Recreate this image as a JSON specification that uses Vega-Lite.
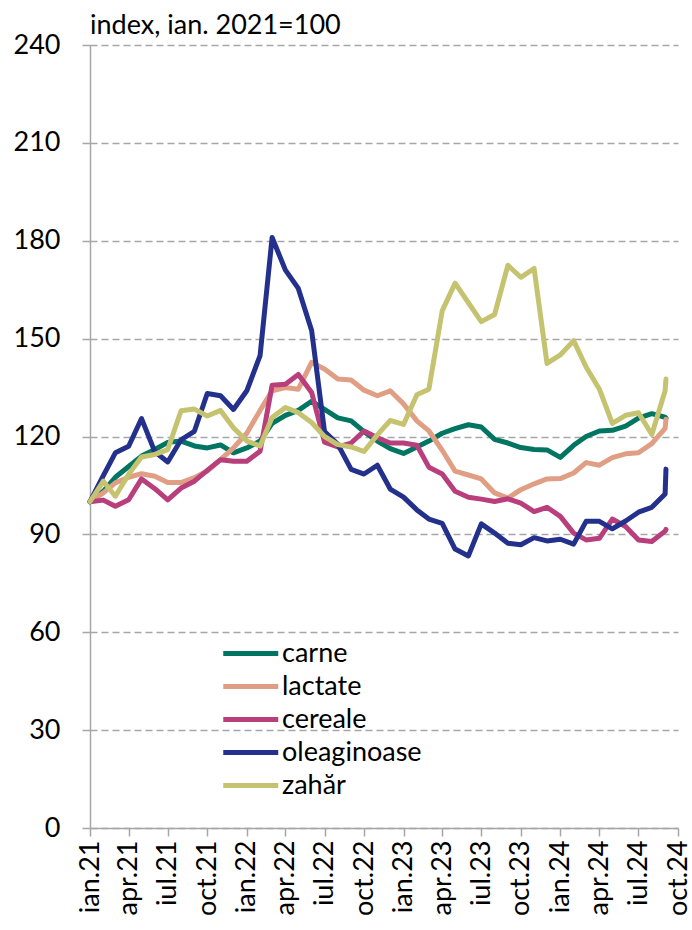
{
  "$schema": "https://vega.github.io/schema/vega-lite/v6.json",
  "width": 588,
  "height": 783,
  "autosize": {"type": "none"},
  "padding": {"left": 90, "top": 45, "right": 14, "bottom": 102},
  "background": "white",
  "title": {"text": "index, ian. 2021=100", "anchor": "start", "frame": "group", "font": "Lato", "fontSize": 27, "fontWeight": "normal", "color": "#000000", "offset": -9},
  "config": {"view": {"stroke": null}, "font": "Lato"},
  "datasets": {
    "raw": [
      {"date": "2021-01-01", "carne": 100, "lactate": 100, "cereale": 100, "oleaginoase": 100, "zahar": 100},
      {"date": "2021-02-01", "carne": 103.2, "lactate": 102.7, "cereale": 100.5, "oleaginoase": 108, "zahar": 106.3},
      {"date": "2021-03-01", "carne": 107.5, "lactate": 105.8, "cereale": 98.6, "oleaginoase": 115, "zahar": 101.7},
      {"date": "2021-04-01", "carne": 110.8, "lactate": 107.5, "cereale": 100.6, "oleaginoase": 117, "zahar": 108.4},
      {"date": "2021-05-01", "carne": 114, "lactate": 108.6, "cereale": 107, "oleaginoase": 125.5, "zahar": 113.7},
      {"date": "2021-06-01", "carne": 116, "lactate": 107.8, "cereale": 104, "oleaginoase": 115.3, "zahar": 114.5},
      {"date": "2021-07-01", "carne": 118.2, "lactate": 105.9, "cereale": 100.6, "oleaginoase": 112.2, "zahar": 116},
      {"date": "2021-08-01", "carne": 118.6, "lactate": 105.9, "cereale": 104.2, "oleaginoase": 119, "zahar": 127.9},
      {"date": "2021-09-01", "carne": 117.1, "lactate": 107.4, "cereale": 106.3, "oleaginoase": 121.6, "zahar": 128.4},
      {"date": "2021-10-01", "carne": 116.5, "lactate": 109.4, "cereale": 109.6, "oleaginoase": 133.2, "zahar": 126.3},
      {"date": "2021-11-01", "carne": 117.4, "lactate": 112.9, "cereale": 112.9, "oleaginoase": 132.5, "zahar": 128},
      {"date": "2021-12-01", "carne": 115, "lactate": 116.5, "cereale": 112.4, "oleaginoase": 128.3, "zahar": 122.7},
      {"date": "2022-01-01", "carne": 116.5, "lactate": 121, "cereale": 112.4, "oleaginoase": 134, "zahar": 118.6},
      {"date": "2022-02-01", "carne": 118.6, "lactate": 128, "cereale": 115.5, "oleaginoase": 144.8, "zahar": 117.1},
      {"date": "2022-03-01", "carne": 124, "lactate": 134, "cereale": 135.7, "oleaginoase": 181, "zahar": 125.8},
      {"date": "2022-04-01", "carne": 126.5, "lactate": 135, "cereale": 136, "oleaginoase": 171, "zahar": 128.9},
      {"date": "2022-05-01", "carne": 128, "lactate": 134.5, "cereale": 139, "oleaginoase": 165.4, "zahar": 127.3},
      {"date": "2022-06-01", "carne": 130.8, "lactate": 142.7, "cereale": 133.5, "oleaginoase": 152.5, "zahar": 124.3},
      {"date": "2022-07-01", "carne": 128.3, "lactate": 140.7, "cereale": 118.3, "oleaginoase": 121.5, "zahar": 120},
      {"date": "2022-08-01", "carne": 125.7, "lactate": 137.6, "cereale": 116.8, "oleaginoase": 117.6, "zahar": 117.5},
      {"date": "2022-09-01", "carne": 124.8, "lactate": 137.3, "cereale": 118, "oleaginoase": 109.9, "zahar": 116.8},
      {"date": "2022-10-01", "carne": 121.5, "lactate": 134.2, "cereale": 121.7, "oleaginoase": 108.5, "zahar": 115.4},
      {"date": "2022-11-01", "carne": 118.6, "lactate": 132.5, "cereale": 119.6, "oleaginoase": 111.2, "zahar": 120.5},
      {"date": "2022-12-01", "carne": 116.3, "lactate": 134, "cereale": 118, "oleaginoase": 103.9, "zahar": 124.9},
      {"date": "2023-01-01", "carne": 114.8, "lactate": 130, "cereale": 118, "oleaginoase": 101.4, "zahar": 123.7},
      {"date": "2023-02-01", "carne": 116.8, "lactate": 124.8, "cereale": 117.3, "oleaginoase": 97.5, "zahar": 132.8},
      {"date": "2023-03-01", "carne": 118.6, "lactate": 121.7, "cereale": 110.6, "oleaginoase": 94.7, "zahar": 134.5},
      {"date": "2023-04-01", "carne": 121, "lactate": 115.8, "cereale": 108.5, "oleaginoase": 93.4, "zahar": 158.5},
      {"date": "2023-05-01", "carne": 122.4, "lactate": 109.4, "cereale": 103.2, "oleaginoase": 85.5, "zahar": 167},
      {"date": "2023-06-01", "carne": 123.6, "lactate": 108.2, "cereale": 101.4, "oleaginoase": 83.4, "zahar": 161},
      {"date": "2023-07-01", "carne": 122.9, "lactate": 107, "cereale": 100.8, "oleaginoase": 93.2, "zahar": 155.2},
      {"date": "2023-08-01", "carne": 119.1, "lactate": 102.7, "cereale": 100.1, "oleaginoase": 90.4, "zahar": 157.4},
      {"date": "2023-09-01", "carne": 118, "lactate": 101.1, "cereale": 100.9, "oleaginoase": 87.3, "zahar": 172.5},
      {"date": "2023-10-01", "carne": 116.6, "lactate": 103.7, "cereale": 99.6, "oleaginoase": 86.8, "zahar": 168.8},
      {"date": "2023-11-01", "carne": 116, "lactate": 105.5, "cereale": 97, "oleaginoase": 89, "zahar": 171.5},
      {"date": "2023-12-01", "carne": 115.9, "lactate": 107, "cereale": 98.3, "oleaginoase": 88, "zahar": 142.4},
      {"date": "2024-01-01", "carne": 113.6, "lactate": 107.1, "cereale": 95.5, "oleaginoase": 88.5, "zahar": 145},
      {"date": "2024-02-01", "carne": 117.3, "lactate": 108.8, "cereale": 90.4, "oleaginoase": 87, "zahar": 149.4},
      {"date": "2024-03-01", "carne": 120, "lactate": 112, "cereale": 88.3, "oleaginoase": 94, "zahar": 141.3},
      {"date": "2024-04-01", "carne": 121.7, "lactate": 111.2, "cereale": 88.8, "oleaginoase": 94, "zahar": 134.5},
      {"date": "2024-05-01", "carne": 121.9, "lactate": 113.5, "cereale": 94.7, "oleaginoase": 91.7, "zahar": 124},
      {"date": "2024-06-01", "carne": 123.2, "lactate": 114.7, "cereale": 92.4, "oleaginoase": 94.1, "zahar": 126.5},
      {"date": "2024-07-01", "carne": 125.6, "lactate": 115, "cereale": 88.3, "oleaginoase": 96.8, "zahar": 127.3},
      {"date": "2024-08-01", "carne": 127, "lactate": 117.8, "cereale": 87.8, "oleaginoase": 98.3, "zahar": 120.6},
      {"date": "2024-09-01", "carne": 125.9, "lactate": 122.5, "cereale": 91, "oleaginoase": 102.4, "zahar": 134},
      {"date": "2024-09-03", "carne": 125.6, "lactate": 125.3, "cereale": 91.5, "oleaginoase": 110, "zahar": 137.6}
    ]
  },
  "data": {"name": "raw"},
  "transform": [
    {"fold": ["carne", "lactate", "cereale", "oleaginoase", "zahar"], "as": ["key", "value"]},
    {"lookup": "key", "from": {"data": {"values": [
      {"key": "carne", "series": "carne"},
      {"key": "lactate", "series": "lactate"},
      {"key": "cereale", "series": "cereale"},
      {"key": "oleaginoase", "series": "oleaginoase"},
      {"key": "zahar", "series": "zahăr"}
    ]}, "key": "key", "fields": ["series"]}}
  ],
  "mark": {"type": "line", "strokeWidth": 5, "strokeJoin": "round", "strokeCap": "round"},
  "encoding": {
    "x": {
      "field": "date",
      "type": "temporal",
      "scale": {"type": "utc", "nice": false, "domain": [{"year": 2021, "month": 1, "date": 1, "utc": true}, {"year": 2024, "month": 10, "date": 1, "utc": true}]},
      "axis": {
        "title": null,
        "grid": false,
        "values": [
          {"year": 2021, "month": 1, "date": 1, "utc": true},
          {"year": 2021, "month": 4, "date": 1, "utc": true},
          {"year": 2021, "month": 7, "date": 1, "utc": true},
          {"year": 2021, "month": 10, "date": 1, "utc": true},
          {"year": 2022, "month": 1, "date": 1, "utc": true},
          {"year": 2022, "month": 4, "date": 1, "utc": true},
          {"year": 2022, "month": 7, "date": 1, "utc": true},
          {"year": 2022, "month": 10, "date": 1, "utc": true},
          {"year": 2023, "month": 1, "date": 1, "utc": true},
          {"year": 2023, "month": 4, "date": 1, "utc": true},
          {"year": 2023, "month": 7, "date": 1, "utc": true},
          {"year": 2023, "month": 10, "date": 1, "utc": true},
          {"year": 2024, "month": 1, "date": 1, "utc": true},
          {"year": 2024, "month": 4, "date": 1, "utc": true},
          {"year": 2024, "month": 7, "date": 1, "utc": true},
          {"year": 2024, "month": 10, "date": 1, "utc": true}
        ],
        "labelExpr": "['ian','feb','mar','apr','mai','iun','iul','aug','sep','oct','nov','dec'][utcmonth(datum.value)] + '.' + utcFormat(datum.value, '%y')",
        "labelAngle": -90,
        "labelFont": "Lato",
        "labelFontSize": 27,
        "labelColor": "#000000",
        "labelPadding": 4,
        "labelOverlap": false,
        "labelFlush": false,
        "tickSize": 8,
        "tickColor": "#a6a6a6",
        "tickWidth": 1.5,
        "domainColor": "#a6a6a6",
        "domainWidth": 1.5
      }
    },
    "y": {
      "field": "value",
      "type": "quantitative",
      "scale": {"domain": [0, 240], "nice": false},
      "axis": {
        "title": null,
        "values": [0, 30, 60, 90, 120, 150, 180, 210, 240],
        "grid": true,
        "gridColor": "#a6a6a6",
        "gridDash": [7, 4],
        "gridWidth": 1.5,
        "domainColor": "#a6a6a6",
        "domainWidth": 1.5,
        "tickColor": "#a6a6a6",
        "tickWidth": 1.5,
        "tickSize": 8,
        "labelFont": "Lato",
        "labelFontSize": 27,
        "labelColor": "#000000",
        "labelPadding": 22
      }
    },
    "color": {
      "field": "series",
      "type": "nominal",
      "scale": {
        "domain": ["carne", "lactate", "cereale", "oleaginoase", "zahăr"],
        "range": ["#007561", "#e09f85", "#b83f7b", "#23318c", "#c5c36f"]
      },
      "legend": {
        "title": null,
        "orient": "none",
        "legendX": 158,
        "legendY": 592,
        "padding": 0,
        "symbolType": "M-3,0H1",
        "symbolSize": 756,
        "symbolStrokeWidth": 5,
        "labelFont": "Lato",
        "labelFontSize": 27,
        "labelColor": "#000000",
        "labelOffset": 1,
        "rowPadding": 3
      }
    }
  }
}
